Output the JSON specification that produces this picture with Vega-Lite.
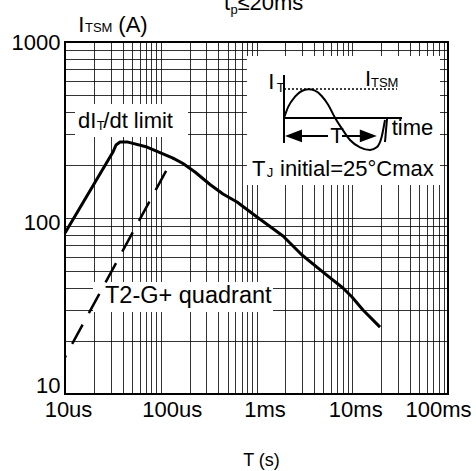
{
  "$schema": "https://vega.github.io/schema/vega-lite/v6.json",
  "width": 383,
  "height": 352,
  "autosize": {"type": "none"},
  "padding": {"left": 65, "top": 42, "right": 28, "bottom": 77},
  "background": "white",
  "config": {
    "view": {"stroke": "black", "strokeWidth": 2},
    "font": "Liberation Sans",
    "axis": {
      "domain": false, "ticks": false, "tickSize": 0,
      "labelFont": "Liberation Sans", "labelFontSize": 22, "labelColor": "black",
      "gridColor": "black", "gridWidth": 1, "gridOpacity": 0.8,
      "labelFlush": false, "labelOverlap": false,
      "titleFont": "Liberation Sans", "titleFontWeight": "normal", "titleColor": "black"
    }
  },
  "datasets": {
    "boxes": [
      {"t": 1.272e-5, "t2": 1.926e-4, "I": 444, "I2": 288.6},
      {"t": 1.961e-5, "t2": 1.487e-3, "I": 43.3, "I2": 29.2}
    ],
    "curve": [
      {"t": 1e-5, "I": 82.2},
      {"t": 3.17e-5, "I": 237},
      {"t": 3.41e-5, "I": 259.8},
      {"t": 3.755e-5, "I": 270},
      {"t": 4.55e-5, "I": 270},
      {"t": 7.18e-5, "I": 253},
      {"t": 9.82e-5, "I": 235.5},
      {"t": 1.343e-4, "I": 219},
      {"t": 1.708e-4, "I": 204},
      {"t": 2.279e-4, "I": 182.5},
      {"t": 3.27e-4, "I": 155},
      {"t": 4.467e-4, "I": 137},
      {"t": 6.26e-4, "I": 123.3},
      {"t": 1.012e-3, "I": 101.3},
      {"t": 1.891e-3, "I": 79},
      {"t": 2.987e-3, "I": 61.6},
      {"t": 4.95e-3, "I": 49.3},
      {"t": 8.0e-3, "I": 40},
      {"t": 9.94e-3, "I": 35.6},
      {"t": 1.295e-2, "I": 30},
      {"t": 1.95e-2, "I": 24}
    ],
    "dashed": [
      {"t": 1e-5, "I": 16.2},
      {"t": 1.343e-4, "I": 219}
    ],
    "labels": [
      {"t": 1.367e-5, "I": 323.4, "s": "dI"},
      {"t": 2.512e-5, "I": 323.4, "s": "/dt limit"},
      {"t": 1.377e-5, "I": 1144, "s": "I"},
      {"t": 3.603e-5, "I": 1144, "s": "(A)"},
      {"t": 4.576e-4, "I": 1520, "s": "t"},
      {"t": 6.331e-4, "I": 1520, "s": "≤20ms"}
    ],
    "bigLabels": [
      {"t": 2.617e-5, "I": 32.9, "s": "T2-G+ quadrant"}
    ],
    "sublabels": [
      {"t": 2.143e-5, "I": 314.2, "s": "T"},
      {"t": 1.618e-5, "I": 1144, "s": "TSM"},
      {"t": 5.353e-4, "I": 1442, "s": "p"}
    ],
    "insetBox": [{"t": -0.37, "t2": 1.56, "i": 2.067, "i2": -2.233}],
    "sine": [
      {"t": 0, "i": 0},
      {"t": 0.043, "i": 0.377},
      {"t": 0.11, "i": 0.71},
      {"t": 0.177, "i": 0.9},
      {"t": 0.243, "i": 0.957},
      {"t": 0.31, "i": 0.91},
      {"t": 0.377, "i": 0.733},
      {"t": 0.443, "i": 0.433},
      {"t": 0.51, "i": 0.01},
      {"t": 0.577, "i": -0.343},
      {"t": 0.66, "i": -0.733},
      {"t": 0.76, "i": -0.977},
      {"t": 0.86, "i": -1.067},
      {"t": 0.927, "i": -0.977},
      {"t": 0.977, "i": -0.623},
      {"t": 1.01, "i": -0.067}
    ],
    "insetRules": [
      {"t": 0, "t2": 0, "i": 1.433, "i2": -0.833},
      {"t": 0, "t2": 1.18, "i": 0, "i2": 0},
      {"t": 0.05, "t2": 0.44, "i": -0.6, "i2": -0.6},
      {"t": 0.58, "t2": 0.85, "i": -0.6, "i2": -0.6},
      {"t": 1.03, "t2": 1.01, "i": -0.03, "i2": -0.8}
    ],
    "insetDotted": [{"t": 0, "t2": 1.13, "i": 0.967, "i2": 0.967}],
    "arrowL": [{"t": 0.095, "i": -0.6}],
    "arrowR": [{"t": 0.843, "i": -0.6}],
    "insetLabels": [
      {"t": -0.157, "i": 0.957, "s": "I"},
      {"t": 0.81, "i": 1.067, "s": "I"},
      {"t": 0.463, "i": -0.82, "s": "T"},
      {"t": 1.077, "i": -0.567, "s": "time"},
      {"t": -0.32, "i": -1.933, "s": "T"},
      {"t": -0.04, "i": -1.933, "s": "initial=25°Cmax"}
    ],
    "insetSub": [
      {"t": -0.073, "i": 0.857, "s": "T"},
      {"t": 0.87, "i": 1.043, "s": "TSM"},
      {"t": -0.173, "i": -1.967, "s": "J"}
    ]
  },
  "layer": [
    {
      "layer": [
        {
          "data": {"name": "boxes"},
          "mark": {"type": "rect", "fill": "white"},
          "encoding": {
            "x": {
              "field": "t", "type": "quantitative",
              "scale": {"type": "log", "domain": [0.00001, 0.1], "nice": false},
              "axis": {
                "values": [0.00001,0.00002,0.00003,0.00004,0.00005,0.00006,0.00007,0.00008,0.00009,0.0001,0.0002,0.0003,0.0004,0.0005,0.0006,0.0007,0.0008,0.0009,0.001,0.002,0.003,0.004,0.005,0.006,0.007,0.008,0.009,0.01,0.02,0.03,0.04,0.05,0.06,0.07,0.08,0.09,0.1],
                "labelExpr": "datum.value == 0.00001 ? '10us' : datum.value == 0.0001 ? '100us' : datum.value == 0.001 ? '1ms' : datum.value == 0.01 ? '10ms' : datum.value == 0.1 ? '100ms' : ''",
                "labelPadding": 5,
                "labelOffset": {
                  "condition": [
                    {"test": "datum.value == 0.0001", "value": 11},
                    {"test": "datum.value == 0.001", "value": 8},
                    {"test": "datum.value == 0.1", "value": -10}
                  ],
                  "value": 3
                },
                "title": "T (s)",
                "titleFontSize": 18,
                "titleX": 196,
                "titleY": 71,
                "titleAlign": "center",
                "titleBaseline": "alphabetic"
              }
            },
            "x2": {"field": "t2"},
            "y": {
              "field": "I", "type": "quantitative",
              "scale": {"type": "log", "domain": [10, 1000], "nice": false},
              "axis": {
                "values": [10,20,30,40,50,60,70,80,90,100,200,300,400,500,600,700,800,900,1000],
                "labelExpr": "datum.value == 10 || datum.value == 100 || datum.value == 1000 ? format(datum.value, 'd') : ''",
                "labelPadding": 5,
                "labelOffset": {
                  "condition": [
                    {"test": "datum.value == 100", "value": 4},
                    {"test": "datum.value == 10", "value": -9}
                  ],
                  "value": 0
                },
                "title": null
              }
            },
            "y2": {"field": "I2"}
          }
        },
        {
          "data": {"name": "curve"},
          "mark": {"type": "line", "color": "black", "strokeWidth": 3, "strokeJoin": "round"},
          "encoding": {
            "x": {"field": "t", "type": "quantitative", "scale": {"type": "log"}},
            "y": {"field": "I", "type": "quantitative", "scale": {"type": "log"}}
          }
        },
        {
          "data": {"name": "dashed"},
          "mark": {"type": "line", "color": "black", "strokeWidth": 2.5, "strokeDash": [22, 13], "strokeDashOffset": 20},
          "encoding": {
            "x": {"field": "t", "type": "quantitative", "scale": {"type": "log"}},
            "y": {"field": "I", "type": "quantitative", "scale": {"type": "log"}}
          }
        },
        {
          "data": {"name": "labels"},
          "mark": {"type": "text", "align": "left", "baseline": "alphabetic", "fontSize": 22, "color": "black", "font": "Liberation Sans"},
          "encoding": {
            "x": {"field": "t", "type": "quantitative", "scale": {"type": "log"}},
            "y": {"field": "I", "type": "quantitative", "scale": {"type": "log"}},
            "text": {"field": "s"}
          }
        },
        {
          "data": {"name": "bigLabels"},
          "mark": {"type": "text", "align": "left", "baseline": "alphabetic", "fontSize": 23.5, "color": "black", "font": "Liberation Sans"},
          "encoding": {
            "x": {"field": "t", "type": "quantitative", "scale": {"type": "log"}},
            "y": {"field": "I", "type": "quantitative", "scale": {"type": "log"}},
            "text": {"field": "s"}
          }
        },
        {
          "data": {"name": "sublabels"},
          "mark": {"type": "text", "align": "left", "baseline": "alphabetic", "fontSize": 13, "color": "black", "font": "Liberation Sans"},
          "encoding": {
            "x": {"field": "t", "type": "quantitative", "scale": {"type": "log"}},
            "y": {"field": "I", "type": "quantitative", "scale": {"type": "log"}},
            "text": {"field": "s"}
          }
        }
      ]
    },
    {
      "layer": [
        {
          "data": {"name": "insetBox"},
          "mark": {"type": "rect", "fill": "white"},
          "encoding": {
            "x": {"field": "t", "type": "quantitative", "scale": {"domain": [-2.19, 1.64], "nice": false, "zero": false}, "axis": null},
            "x2": {"field": "t2"},
            "y": {"field": "i", "type": "quantitative", "scale": {"domain": [-9.2, 2.533], "nice": false, "zero": false}, "axis": null},
            "y2": {"field": "i2"}
          }
        },
        {
          "data": {"name": "insetDotted"},
          "mark": {"type": "rule", "color": "black", "strokeWidth": 1.5, "strokeDash": [2, 2]},
          "encoding": {
            "x": {"field": "t", "type": "quantitative", "axis": null},
            "x2": {"field": "t2"},
            "y": {"field": "i", "type": "quantitative", "axis": null},
            "y2": {"field": "i2"}
          }
        },
        {
          "data": {"name": "insetRules"},
          "mark": {"type": "rule", "color": "black", "strokeWidth": 2},
          "encoding": {
            "x": {"field": "t", "type": "quantitative", "axis": null},
            "x2": {"field": "t2"},
            "y": {"field": "i", "type": "quantitative", "axis": null},
            "y2": {"field": "i2"}
          }
        },
        {
          "data": {"name": "sine"},
          "mark": {"type": "line", "color": "black", "strokeWidth": 2, "interpolate": "monotone"},
          "encoding": {
            "x": {"field": "t", "type": "quantitative", "axis": null},
            "y": {"field": "i", "type": "quantitative", "axis": null}
          }
        },
        {
          "data": {"name": "arrowL"},
          "mark": {"type": "point", "shape": "M-1,0L1,-0.75L1,0.75Z", "size": 289, "filled": true, "color": "black", "opacity": 1, "strokeWidth": 0},
          "encoding": {
            "x": {"field": "t", "type": "quantitative", "axis": null},
            "y": {"field": "i", "type": "quantitative", "axis": null}
          }
        },
        {
          "data": {"name": "arrowR"},
          "mark": {"type": "point", "shape": "M1,0L-1,-0.75L-1,0.75Z", "size": 289, "filled": true, "color": "black", "opacity": 1, "strokeWidth": 0},
          "encoding": {
            "x": {"field": "t", "type": "quantitative", "axis": null},
            "y": {"field": "i", "type": "quantitative", "axis": null}
          }
        },
        {
          "data": {"name": "insetLabels"},
          "mark": {"type": "text", "align": "left", "baseline": "alphabetic", "fontSize": 22, "color": "black", "font": "Liberation Sans"},
          "encoding": {
            "x": {"field": "t", "type": "quantitative", "axis": null},
            "y": {"field": "i", "type": "quantitative", "axis": null},
            "text": {"field": "s"}
          }
        },
        {
          "data": {"name": "insetSub"},
          "mark": {"type": "text", "align": "left", "baseline": "alphabetic", "fontSize": 13, "color": "black", "font": "Liberation Sans"},
          "encoding": {
            "x": {"field": "t", "type": "quantitative", "axis": null},
            "y": {"field": "i", "type": "quantitative", "axis": null},
            "text": {"field": "s"}
          }
        }
      ]
    }
  ],
  "resolve": {"scale": {"x": "independent", "y": "independent"}}
}
